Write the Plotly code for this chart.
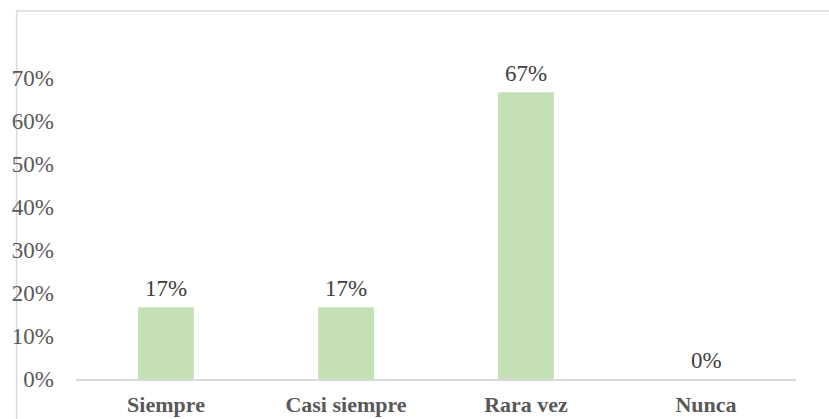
import plotly.graph_objects as go

categories = ["Siempre", "Casi siempre", "Rara vez", "Nunca"]
values = [0.1667, 0.1667, 0.6667, 0.0]
labels = ["17%", "17%", "67%", "0%"]
ytick_vals = [0, 0.1, 0.2, 0.3, 0.4, 0.5, 0.6, 0.7]

FONT = "Times New Roman, Liberation Serif, serif"

fig = go.Figure()
fig.add_trace(go.Bar(
    x=categories, y=values,
    marker=dict(color="#C5E0B4", line=dict(width=0)),
    width=0.31,
    hoverinfo="skip",
))

for c, v, t in zip(categories, values, labels):
    fig.add_annotation(x=c, y=v, text=t, showarrow=False, yanchor="bottom",
                       yshift=4, font=dict(family=FONT, size=23, color="#404040"))

fig.add_shape(type="rect", xref="paper", yref="paper",
              x0=-0.0825, x1=1.2, y0=-1, y1=1.07,
              line=dict(color="#D9D9D9", width=1.5), layer="below")

fig.update_layout(
    width=829, height=419,
    margin=dict(l=76, r=33, t=35, b=40),
    paper_bgcolor="white", plot_bgcolor="white",
    showlegend=False,
    font=dict(family=FONT, size=23, color="#595959"),
    xaxis=dict(
        showline=True, linecolor="#D9D9D9", linewidth=1.5,
        showgrid=False, ticks="", ticklabelstandoff=5, automargin=False,
        tickfont=dict(family=FONT, size=22, color="#595959", weight="bold"),
    ),
    yaxis=dict(
        range=[0, 0.8], tickvals=ytick_vals, tickformat=".0%",
        showgrid=False, zeroline=False, showline=False, automargin=False,
        ticks="", ticklabelstandoff=21,
        tickfont=dict(family=FONT, size=23, color="#595959"),
    ),
)

fig.write_html("out.html")
